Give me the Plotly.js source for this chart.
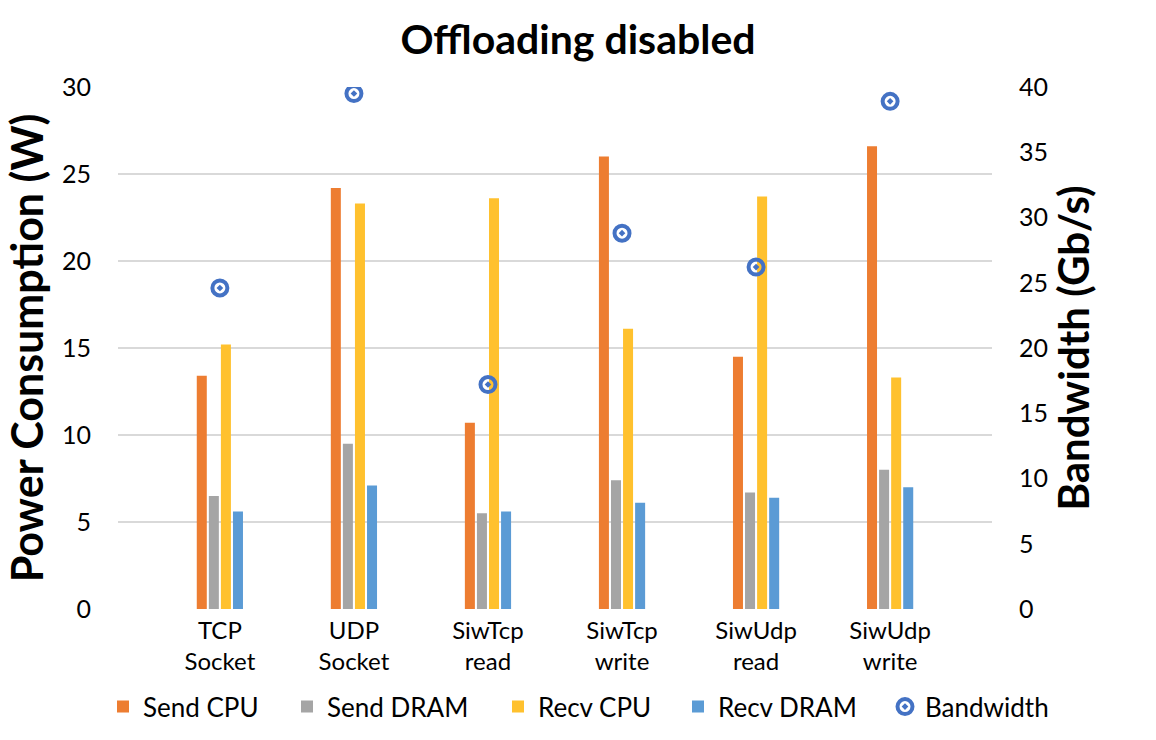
<!DOCTYPE html>
<html>
<head>
<meta charset="utf-8">
<script src="https://cdn.plot.ly/plotly-3.0.1.min.js"></script>
<style>html,body{margin:0;padding:0;background:#fff;}#chart{width:1156px;height:740px;}</style>
</head>
<body>
<div id="chart"></div>
<script>
const categories = ["TCP<br>Socket", "UDP<br>Socket", "SiwTcp<br>read", "SiwTcp<br>write", "SiwUdp<br>read", "SiwUdp<br>write"];
const sendCPU   = [13.4, 24.2, 10.7, 26.0, 14.5, 26.6];
const sendDRAM  = [6.5, 9.5, 5.5, 7.4, 6.7, 8.0];
const recvCPU   = [15.2, 23.3, 23.6, 16.1, 23.7, 13.3];
const recvDRAM  = [5.6, 7.1, 5.6, 6.1, 6.4, 7.0];
const bandwidth = [24.6, 39.5, 17.2, 28.8, 26.2, 38.9];
const leftTicks = [0, 5, 10, 15, 20, 25, 30];
const rightTicks = [0, 5, 10, 15, 20, 25, 30, 35, 40];

const FONT = "Lato, 'Open Sans', sans-serif";
const idx = categories.map((_, i) => i);

function barTrace(name, vals, color, leg) {
  return {type: 'bar', name: name, x: idx, y: vals, marker: {color: color}, yaxis: 'y', hoverinfo: 'y', legend: leg};
}

const traces = [
  barTrace('Send CPU', sendCPU, '#ED7D31', 'legend'),
  barTrace('Send DRAM', sendDRAM, '#A5A5A5', 'legend2'),
  barTrace('Recv CPU', recvCPU, '#FFC12E', 'legend3'),
  barTrace('Recv DRAM', recvDRAM, '#5B9BD5', 'legend4'),
  {type: 'scatter', mode: 'markers', name: 'Bandwidth', x: idx, y: bandwidth, yaxis: 'y2', legend: 'legend5',
   marker: {symbol: 'circle-open-dot', size: 15, color: '#4472C4', line: {width: 4, color: '#4472C4'}}}
];

// legend text start positions (px) used to place each legend entry
const legendTextX = [143, 327, 538, 718, 925];
function legendAt(px) {
  return {orientation: 'h', xref: 'container', x: (px - 40) / 1156, xanchor: 'left', yref: 'container', y: 0.045, yanchor: 'middle',
          font: {family: FONT, size: 26}, bgcolor: 'rgba(0,0,0,0)'};
}

const layout = {
  width: 1156, height: 740,
  margin: {l: 118, r: 164, t: 87, b: 131},
  paper_bgcolor: '#fff', plot_bgcolor: '#fff',
  font: {family: FONT, size: 24, color: '#000'},
  title: {text: '<b>Offloading disabled</b>', x: 0.5, xref: 'container', xanchor: 'center', y: 0.946, yref: 'container', yanchor: 'middle', font: {family: FONT, size: 41, color: '#000'}},
  barmode: 'group', bargap: 0.64, bargroupgap: 0.17,
  showlegend: true,
  legend: legendAt(legendTextX[0]),
  legend2: legendAt(legendTextX[1]),
  legend3: legendAt(legendTextX[2]),
  legend4: legendAt(legendTextX[3]),
  legend5: legendAt(legendTextX[4]),
  xaxis: {
    range: [-0.76, 5.76], tickmode: 'array', tickvals: idx, ticktext: categories,
    showgrid: false, zeroline: false, showline: false, ticks: '', fixedrange: true,
    ticklabelstandoff: 5, tickfont: {family: FONT, size: 24}
  },
  yaxis: {
    range: [0, 30], tickmode: 'array', tickvals: leftTicks, ticktext: leftTicks.map(String),
    showgrid: true, gridcolor: '#D9D9D9', gridwidth: 1.3, zeroline: false, showline: false,
    ticks: '', ticklabelstandoff: 26, tickfont: {family: FONT, size: 25},
    title: {text: '<b>Power Consumption (W)</b>', font: {family: FONT, size: 43}, standoff: 4}
  },
  yaxis2: {
    range: [0, 40], overlaying: 'y', side: 'right', tickmode: 'array', tickvals: rightTicks, ticktext: rightTicks.map(String),
    showgrid: false, zeroline: false, showline: false, ticks: '', ticklabelstandoff: 26,
    tickfont: {family: FONT, size: 25},
    title: {text: '<b>Bandwidth (Gb/s)</b>', font: {family: FONT, size: 42}, standoff: 10}
  }
};

Plotly.newPlot('chart', traces, layout, {displayModeBar: false, staticPlot: true});
</script>
</body>
</html>
